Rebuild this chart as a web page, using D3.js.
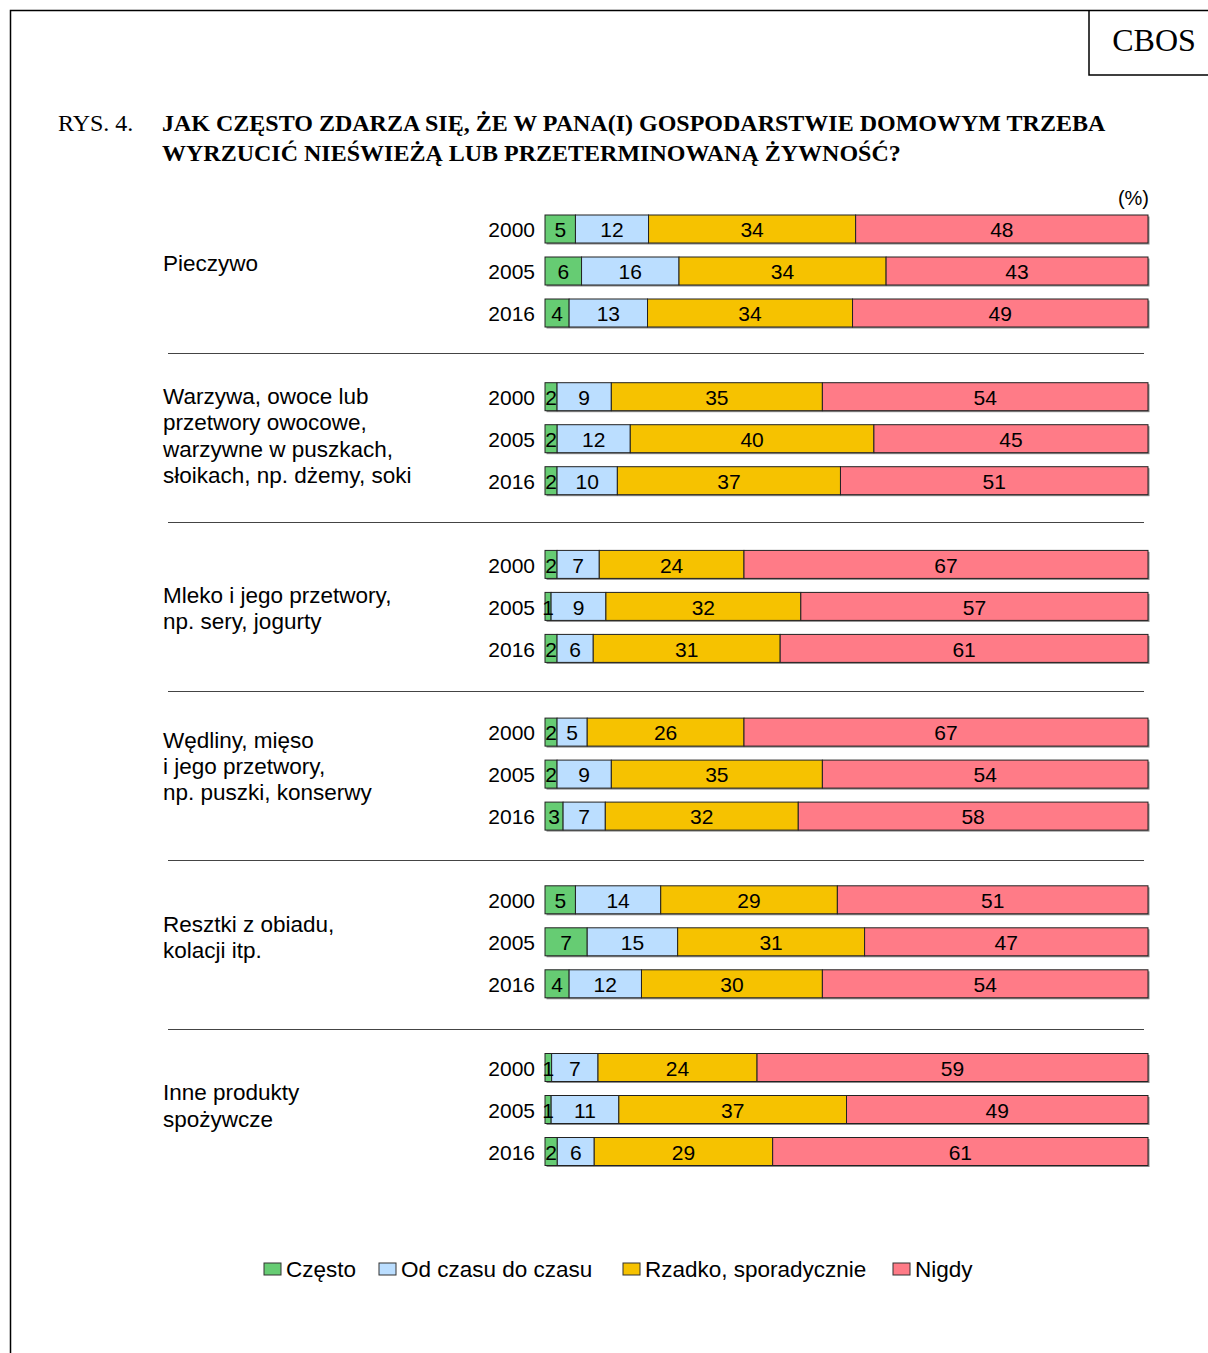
<!DOCTYPE html>
<html>
<head>
<meta charset="utf-8">
<script src="https://cdn.jsdelivr.net/npm/d3@7"></script>
<style>
  body { margin: 0; background: #fff; }
  svg { display: block; }
</style>
</head>
<body>
<div id="chart"></div>
<script>
// dane
var categories = [
    ["Pieczywo"],
    ["Warzywa, owoce lub", "przetwory owocowe,", "warzywne w puszkach,", "słoikach, np. dżemy, soki"],
    ["Mleko i jego przetwory,", "np. sery, jogurty"],
    ["Wędliny, mięso", "i jego przetwory,", "np. puszki, konserwy"],
    ["Resztki z obiadu,", "kolacji itp."],
    ["Inne produkty", "spożywcze"]
];
var years = ["2000", "2005", "2016"];
var seriesNames = ["Często", "Od czasu do czasu", "Rzadko, sporadycznie", "Nigdy"];
var czesto = [[5, 6, 4], [2, 2, 2], [2, 1, 2], [2, 2, 3], [5, 7, 4], [1, 1, 2]];
var odCzasu = [[12, 16, 13], [9, 12, 10], [7, 9, 6], [5, 9, 7], [14, 15, 12], [7, 11, 6]];
var rzadko = [[34, 34, 34], [35, 40, 37], [24, 32, 31], [26, 35, 32], [29, 31, 30], [24, 37, 29]];
var nigdy = [[48, 43, 49], [54, 45, 51], [67, 57, 61], [67, 54, 58], [51, 47, 54], [59, 49, 61]];
var colors = ["#66cc73", "#bbdeff", "#f6c200", "#ff7b87"];

var width = 1208, height = 1353;
var svg = d3.select("#chart").append("svg")
    .attr("width", width)
    .attr("height", height);

// ramka
svg.append("path")
    .attr("d", "M10.5," + height + "V10.5H" + width)
    .attr("fill", "none").attr("stroke", "#000").attr("stroke-width", 1.5);
svg.append("path")
    .attr("d", "M1089,10.5V75H" + width)
    .attr("fill", "none").attr("stroke", "#000").attr("stroke-width", 1.5);
svg.append("text")
    .attr("x", 1154).attr("y", 51)
    .attr("text-anchor", "middle")
    .style("font-family", "Liberation Serif")
    .style("font-size", "32px")
    .text("CBOS");

// tytuł
var serif = "Liberation Serif";
svg.append("text").attr("x", 58).attr("y", 131)
    .style("font-family", serif).style("font-size", "24px")
    .text("RYS. 4.");
svg.append("text").attr("x", 162).attr("y", 131)
    .style("font-family", serif).style("font-size", "24px").style("font-weight", "bold")
    .text("JAK CZĘSTO ZDARZA SIĘ, ŻE W PANA(I) GOSPODARSTWIE DOMOWYM TRZEBA");
svg.append("text").attr("x", 162).attr("y", 161)
    .style("font-family", serif).style("font-size", "24px").style("font-weight", "bold")
    .text("WYRZUCIĆ NIEŚWIEŻĄ LUB PRZETERMINOWANĄ ŻYWNOŚĆ?");

svg.append("text").attr("x", 1149).attr("y", 205)
    .attr("text-anchor", "end")
    .style("font-family", "Liberation Sans").style("font-size", "20px")
    .text("(%)");

// skale
var x = d3.scaleLinear().domain([0, 100]).range([545, 1148]);
var gy = d3.scaleBand().domain(d3.range(categories.length)).range([215, 215 + 6 * 167.7]);
var yy = d3.scaleBand().domain(years).range([0, 112]).paddingInner(1 / 3);
var sepY = d3.scaleLinear().domain([0, 1]).range([352.5, 521.5]);
var labelShift = [-8, -3, 2, -8, -5, -4];

var seriesData = [czesto, odCzasu, rzadko, nigdy];

categories.forEach(function (lines, gi) {
    var g = svg.append("g").attr("transform", "translate(0," + gy(gi) + ")");

    // etykieta kategorii
    var lh = 26.3;
    var cy = 56 + labelShift[gi] - (lines.length - 1) * lh / 2;
    var t = g.append("text")
        .style("font-family", "Liberation Sans").style("font-size", "22.5px");
    lines.forEach(function (l, li) {
        t.append("tspan").attr("x", 163).attr("y", cy + li * lh).attr("dy", "0.35em").text(l);
    });

    years.forEach(function (yr, yi) {
        var vals = seriesData.map(function (s) { return s[gi][yi]; });
        var total = d3.sum(vals);
        var cum = 0;
        var segs = vals.map(function (v, si) {
            var s = { v: v, si: si, x0: cum / total * 100, x1: (cum + v) / total * 100 };
            cum += v;
            return s;
        });
        var row = g.append("g").attr("transform", "translate(0," + yy(yr) + ")");
        var bh = yy.bandwidth();

        row.append("text")
            .attr("x", 535).attr("y", bh / 2 + 1).attr("dy", "0.35em")
            .attr("text-anchor", "end")
            .style("font-family", "Liberation Sans").style("font-size", "21px")
            .text(yr);

        // cień
        row.append("rect")
            .attr("x", x(0) + 1.5).attr("y", 1.5)
            .attr("width", x(100) - x(0)).attr("height", bh)
            .attr("fill", "#8a8a8a");

        row.selectAll("rect.seg").data(segs).enter().append("rect")
            .attr("class", "seg")
            .attr("x", function (d) { return x(d.x0); })
            .attr("y", 0)
            .attr("width", function (d) { return x(d.x1) - x(d.x0); })
            .attr("height", bh)
            .attr("fill", function (d) { return colors[d.si]; })
            .attr("stroke", "#222").attr("stroke-width", 1);

        row.selectAll("text.val").data(segs).enter().append("text")
            .attr("class", "val")
            .attr("x", function (d) { return (x(d.x0) + x(d.x1)) / 2; })
            .attr("y", bh / 2 + 1).attr("dy", "0.35em")
            .attr("text-anchor", "middle")
            .style("font-family", "Liberation Sans").style("font-size", "21px")
            .text(function (d) { return d.v; });
    });
});

// linie oddzielające
svg.selectAll("line.sep").data(d3.range(categories.length - 1)).enter().append("line")
    .attr("class", "sep")
    .attr("x1", 168).attr("x2", 1144)
    .attr("y1", function (d) { return Math.round(sepY(d)) + 0.5; })
    .attr("y2", function (d) { return Math.round(sepY(d)) + 0.5; })
    .attr("stroke", "#444").attr("stroke-width", 1);

// legenda
var legendX = [264, 379, 623, 893];
var legend = svg.selectAll("g.legend").data(seriesNames).enter().append("g")
    .attr("class", "legend")
    .attr("transform", function (d, i) { return "translate(" + legendX[i] + ",1263)"; });
legend.append("rect")
    .attr("width", 17).attr("height", 12)
    .attr("fill", function (d, i) { return colors[i]; })
    .attr("stroke", "#333").attr("stroke-width", 1);
legend.append("text")
    .attr("x", 22).attr("y", 6).attr("dy", "0.35em")
    .style("font-family", "Liberation Sans").style("font-size", "22.5px")
    .text(function (d) { return d; });
</script>
</body>
</html>
